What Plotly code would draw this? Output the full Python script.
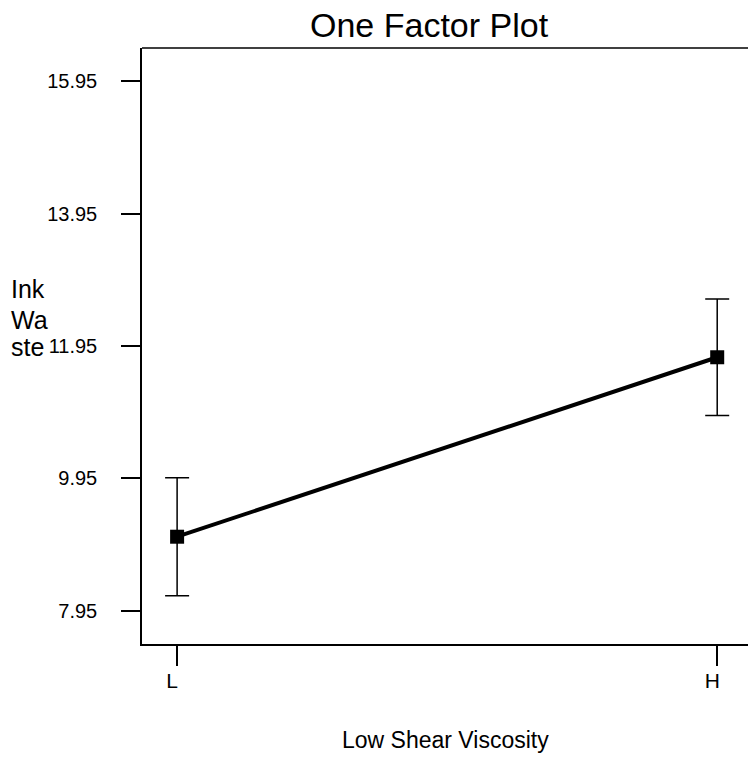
import plotly.graph_objects as go

levels = ["L", "H"]
means = [9.07, 11.78]
errors = [0.89, 0.88]
y_ticks = [7.95, 9.95, 11.95, 13.95, 15.95]
y_tick_labels = ["7.95", "9.95", "11.95", "13.95", "15.95"]

FONT = "Liberation Sans, Arial, sans-serif"
W, H = 748, 775
L_M, R_M, T_M, B_M = 142, 0, 48, 131
PH = H - T_M - B_M
PW = W - L_M - R_M

fig = go.Figure()
fig.add_trace(go.Scatter(
    x=[0, 1], y=means,
    mode="lines+markers",
    line=dict(color="black", width=4),
    marker=dict(symbol="square", size=14, color="black"),
    error_y=dict(type="data", array=errors, visible=True,
                 color="black", thickness=1.5, width=12),
    showlegend=False,
))

def py(ypix):
    return (H - B_M - ypix) / PH

def px(xpix):
    return (xpix - L_M) / PW

annotations = [
    dict(text="One Factor Plot", x=px(429), y=py(25), xref="paper", yref="paper",
         xanchor="center", yanchor="middle", showarrow=False,
         font=dict(family=FONT, size=34, color="black")),
    dict(text="Low Shear Viscosity", x=px(445), y=py(740), xref="paper", yref="paper",
         xanchor="center", yanchor="middle", showarrow=False,
         font=dict(family=FONT, size=23, color="black")),
]
for txt, yc in [("Ink", 289), ("Wa", 320), ("ste", 347)]:
    annotations.append(dict(text=txt, x=px(9), y=py(yc), xref="paper", yref="paper",
                            xanchor="left", yanchor="middle", showarrow=False,
                            font=dict(family=FONT, size=25, color="black")))

fig.update_layout(
    width=W, height=H,
    margin=dict(l=L_M, r=R_M, t=T_M, b=B_M, pad=0),
    plot_bgcolor="white", paper_bgcolor="white",
    font=dict(family=FONT, color="black"),
    annotations=annotations,
    shapes=[dict(type="line", xref="paper", yref="paper", x0=0, x1=1.01, y0=1, y1=1,
                 line=dict(color="black", width=1.5))],
    xaxis=dict(
        range=[-0.065, 1.057],
        tickvals=[0, 1], ticktext=levels,
        showgrid=False, zeroline=False,
        showline=True, linecolor="black", linewidth=1.5, mirror=False,
        ticks="outside", ticklen=20, tickwidth=1.5, tickcolor="black",
        ticklabelshift=-5, ticklabelstandoff=-3,
        tickfont=dict(family=FONT, size=21, color="black"),
    ),
    yaxis=dict(
        range=[7.45, 16.45],
        tickvals=y_ticks, ticktext=y_tick_labels,
        showgrid=False, zeroline=False,
        showline=True, linecolor="black", linewidth=1.5,
        ticks="outside", ticklen=19, tickwidth=1.5, tickcolor="black",
        ticklabelstandoff=20,
        tickfont=dict(family=FONT, size=20, color="black"),
    ),
)

fig.write_html("out.html")
